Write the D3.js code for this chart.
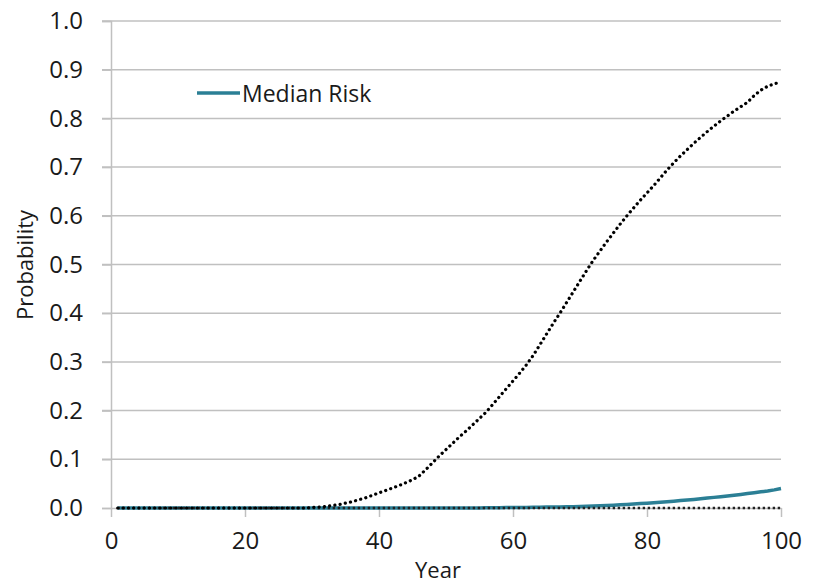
<!DOCTYPE html>
<html>
<head>
<meta charset="utf-8">
<script src="https://cdn.jsdelivr.net/npm/d3@7"></script>
<style>
  html, body { margin: 0; padding: 0; background: #ffffff; }
  svg { display: block; font-family: "Open Sans", "DejaVu Sans", sans-serif; }
</style>
</head>
<body>
<svg id="chart" width="817" height="584"></svg>
<script>
// ---- data ----
const years = d3.range(1, 101);
const upperRisk = [
  0,0,0,0,0,0,0,0,0,0,            // 1-10
  0,0,0,0,0,0,0,0,0,0,            // 11-20
  0,0,0,0,0,0,0,0,0,0.001,        // 21-30
  0.002,0.003,0.005,0.007,0.010,0.013,0.017,0.021,0.026,0.031, // 31-40
  0.036,0.041,0.046,0.052,0.058,0.066,0.079,0.093,0.107,0.120, // 41-50
  0.133,0.146,0.158,0.171,0.184,0.197,0.213,0.229,0.245,0.261, // 51-60
  0.277,0.294,0.313,0.335,0.357,0.379,0.400,0.422,0.444,0.466, // 61-70
  0.488,0.509,0.528,0.547,0.565,0.583,0.600,0.616,0.632,0.647, // 71-80
  0.662,0.678,0.694,0.709,0.723,0.736,0.749,0.761,0.773,0.784, // 81-90
  0.795,0.805,0.815,0.824,0.833,0.847,0.858,0.866,0.871,0.875  // 91-100
];
const lowerRisk = years.map(() => 0);
const medianRisk = [
  0,0,0,0,0,0,0,0,0,0,
  0,0,0,0,0,0,0,0,0,0,
  0,0,0,0,0,0,0,0,0,0,
  0,0,0,0,0,0,0,0,0,0,
  0,0,0,0,0,0,0,0,0,0,
  0,0,0,0,0,0.0005,0.0005,0.0007,0.0008,0.001,
  0.001,0.0012,0.0014,0.0016,0.0018,0.002,0.0022,0.0025,0.0028,0.003,
  0.0035,0.004,0.0045,0.005,0.0058,0.0066,0.0074,0.0082,0.009,0.010,
  0.011,0.012,0.013,0.014,0.0152,0.0164,0.0176,0.019,0.0204,0.0218,
  0.0232,0.0246,0.0262,0.0278,0.0296,0.0314,0.0332,0.035,0.0372,0.040
];
const xTicks = [0, 20, 40, 60, 80, 100];
const yTicks = [0, 0.1, 0.2, 0.3, 0.4, 0.5, 0.6, 0.7, 0.8, 0.9, 1.0];
const legendLabel = "Median Risk";
const xTitle = "Year";
const yTitle = "Probability";

// ---- layout ----
const svg = d3.select("#chart");
const mLeft = 111, mRight = 781, mTop = 21, mBottom = 508;
const x = d3.scaleLinear().domain([0, 100]).range([mLeft, mRight]);
const y = d3.scaleLinear().domain([0, 1]).range([mBottom, mTop]);

const gridColor = "#c0c0c0";
const teal = "#2b7f95";

// horizontal gridlines (extend left as tick marks)
svg.append("g")
  .selectAll("line")
  .data(yTicks.filter(d => d > 0))
  .join("line")
  .attr("x1", mLeft - 9).attr("x2", mRight)
  .attr("y1", d => y(d)).attr("y2", d => y(d))
  .attr("stroke", gridColor).attr("stroke-width", 1.5);

// y axis
const yAxis = svg.append("g")
  .attr("transform", `translate(${mLeft},0)`)
  .call(d3.axisLeft(y).tickValues(yTicks).tickFormat(d3.format(".1f")).tickSize(9).tickPadding(19));
yAxis.select(".domain").attr("stroke", gridColor).attr("stroke-width", 1.5);
yAxis.selectAll(".tick line").attr("stroke", gridColor).attr("stroke-width", 1.5);
yAxis.selectAll(".tick text").attr("font-size", 24).attr("fill", "#1a1a1a")
  .attr("font-family", "'Open Sans', sans-serif");

// x axis
const xAxis = svg.append("g")
  .attr("transform", `translate(0,${mBottom})`)
  .call(d3.axisBottom(x).tickValues(xTicks).tickFormat(d3.format("d")).tickSize(9).tickSizeOuter(0).tickPadding(15));
xAxis.select(".domain").attr("stroke", gridColor).attr("stroke-width", 1.5);
xAxis.selectAll(".tick line").attr("stroke", gridColor).attr("stroke-width", 1.5);
xAxis.selectAll(".tick text").attr("font-size", 24).attr("fill", "#1a1a1a")
  .attr("font-family", "'Open Sans', sans-serif");

// lines
const line = d3.line().x((d, i) => x(years[i])).y(d => y(d));

svg.append("path")
  .datum(medianRisk)
  .attr("d", line)
  .attr("fill", "none")
  .attr("stroke", teal)
  .attr("stroke-width", 3.5)
  .attr("stroke-linejoin", "round");

svg.append("path")
  .datum(lowerRisk)
  .attr("d", line)
  .attr("fill", "none")
  .attr("stroke", "#222")
  .attr("stroke-width", 2.4)
  .attr("stroke-dasharray", "2.4,2.6");

svg.append("path")
  .datum(upperRisk)
  .attr("d", line)
  .attr("fill", "none")
  .attr("stroke", "#000")
  .attr("stroke-width", 3.2)
  .attr("stroke-linecap", "round")
  .attr("stroke-dasharray", "0.1,5.2");

// legend
svg.append("line")
  .attr("x1", 197).attr("x2", 240).attr("y1", 93).attr("y2", 93)
  .attr("stroke", teal).attr("stroke-width", 3.5);
svg.append("text")
  .attr("x", 242).attr("y", 102)
  .attr("font-size", 23).attr("fill", "#1a1a1a")
  .text(legendLabel);

// axis titles
svg.append("text")
  .attr("x", (mLeft + mRight) / 2 - 8).attr("y", 578)
  .attr("text-anchor", "middle")
  .attr("font-size", 22).attr("fill", "#1a1a1a")
  .text(xTitle);
svg.append("text")
  .attr("transform", "translate(33,265) rotate(-90)")
  .attr("text-anchor", "middle")
  .attr("font-size", 22).attr("fill", "#1a1a1a")
  .text(yTitle);
</script>
</body>
</html>
